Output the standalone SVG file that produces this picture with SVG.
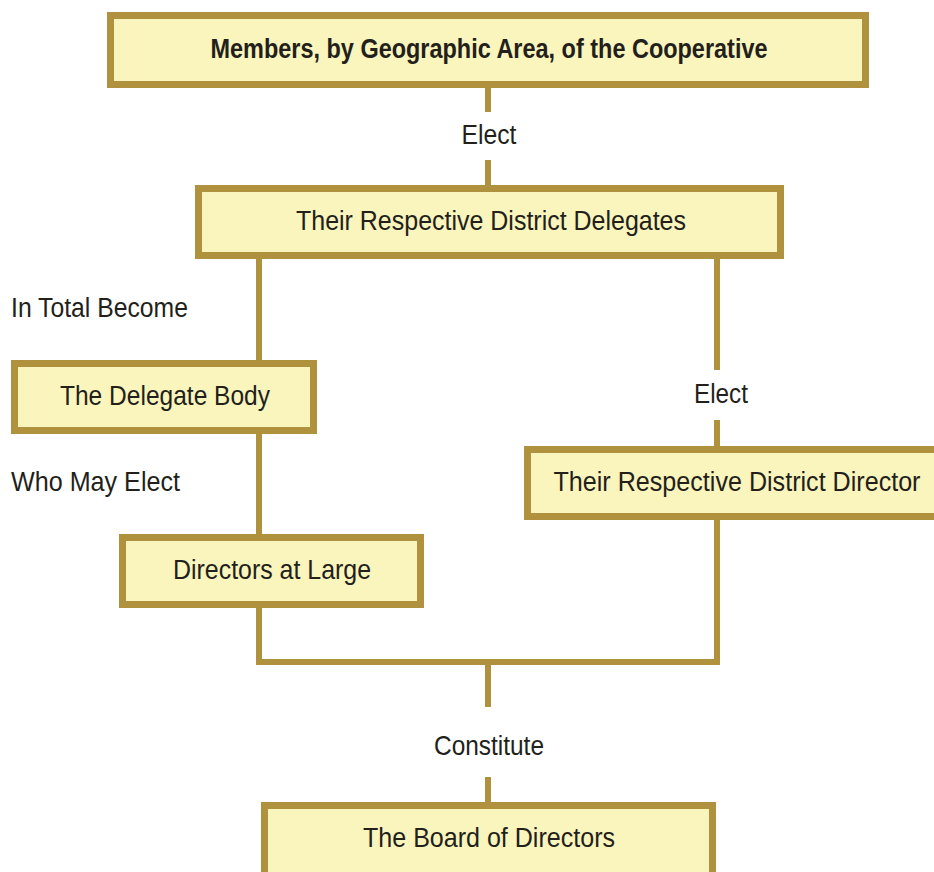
<svg xmlns="http://www.w3.org/2000/svg" width="934" height="872" viewBox="0 0 934 872">
  <style>
    .box { fill: #FAF4BD; stroke: #B0923E; stroke-width: 7; }
    .wire { fill: none; stroke: #B0923E; stroke-width: 6; }
    text { font-family: "Liberation Sans", Arial, sans-serif; font-size: 27.5px; fill: #231F1A; }
    .c { text-anchor: middle; }
    .b { font-weight: bold; }
  </style>
  <rect width="934" height="872" fill="#FFFFFF"/>

  <!-- connectors -->
  <g id="connectors">
    <line class="wire" x1="488" y1="88" x2="488" y2="112"/>
    <line class="wire" x1="488" y1="160" x2="488" y2="185"/>
    <line class="wire" x1="259" y1="259" x2="259" y2="360"/>
    <line class="wire" x1="259" y1="434" x2="259" y2="534"/>
    <line class="wire" x1="717" y1="256" x2="717" y2="370"/>
    <line class="wire" x1="717" y1="420" x2="717" y2="446"/>
    <polyline class="wire" points="259,608 259,662 717,662 717,520"/>
    <line class="wire" x1="488" y1="662" x2="488" y2="707"/>
    <line class="wire" x1="488" y1="777" x2="488" y2="802"/>
    <text class="c" x="489" y="144" textLength="55" lengthAdjust="spacingAndGlyphs">Elect</text>
    <text x="11" y="317" textLength="177" lengthAdjust="spacingAndGlyphs">In Total Become</text>
    <text class="c" x="721" y="403" textLength="54" lengthAdjust="spacingAndGlyphs">Elect</text>
    <text x="11" y="491" textLength="169" lengthAdjust="spacingAndGlyphs">Who May Elect</text>
    <text class="c" x="489" y="755" textLength="110" lengthAdjust="spacingAndGlyphs">Constitute</text>
  </g>

  <g id="members">
    <rect class="box" x="110.5" y="15.5" width="755" height="69"/>
    <text class="c b" x="489" y="58" textLength="557" lengthAdjust="spacingAndGlyphs">Members, by Geographic Area, of the Cooperative</text>
  </g>

  <g id="district-delegates">
    <rect class="box" x="198.5" y="188.5" width="582" height="67"/>
    <text class="c" x="491" y="230" textLength="390" lengthAdjust="spacingAndGlyphs">Their Respective District Delegates</text>
  </g>

  <g id="delegate-body">
    <rect class="box" x="14.5" y="363.5" width="299" height="67"/>
    <text class="c" x="165" y="405" textLength="210" lengthAdjust="spacingAndGlyphs">The Delegate Body</text>
  </g>

  <g id="district-director">
    <rect class="box" x="527.5" y="449.5" width="420" height="67"/>
    <text class="c" x="737" y="491" textLength="367" lengthAdjust="spacingAndGlyphs">Their Respective District Director</text>
  </g>

  <g id="directors-at-large">
    <rect class="box" x="122.5" y="537.5" width="298" height="67"/>
    <text class="c" x="272" y="579" textLength="198" lengthAdjust="spacingAndGlyphs">Directors at Large</text>
  </g>

  <g id="board">
    <rect class="box" x="264.5" y="805.5" width="448" height="80"/>
    <text class="c" x="489" y="847" textLength="252" lengthAdjust="spacingAndGlyphs">The Board of Directors</text>
  </g>
</svg>
